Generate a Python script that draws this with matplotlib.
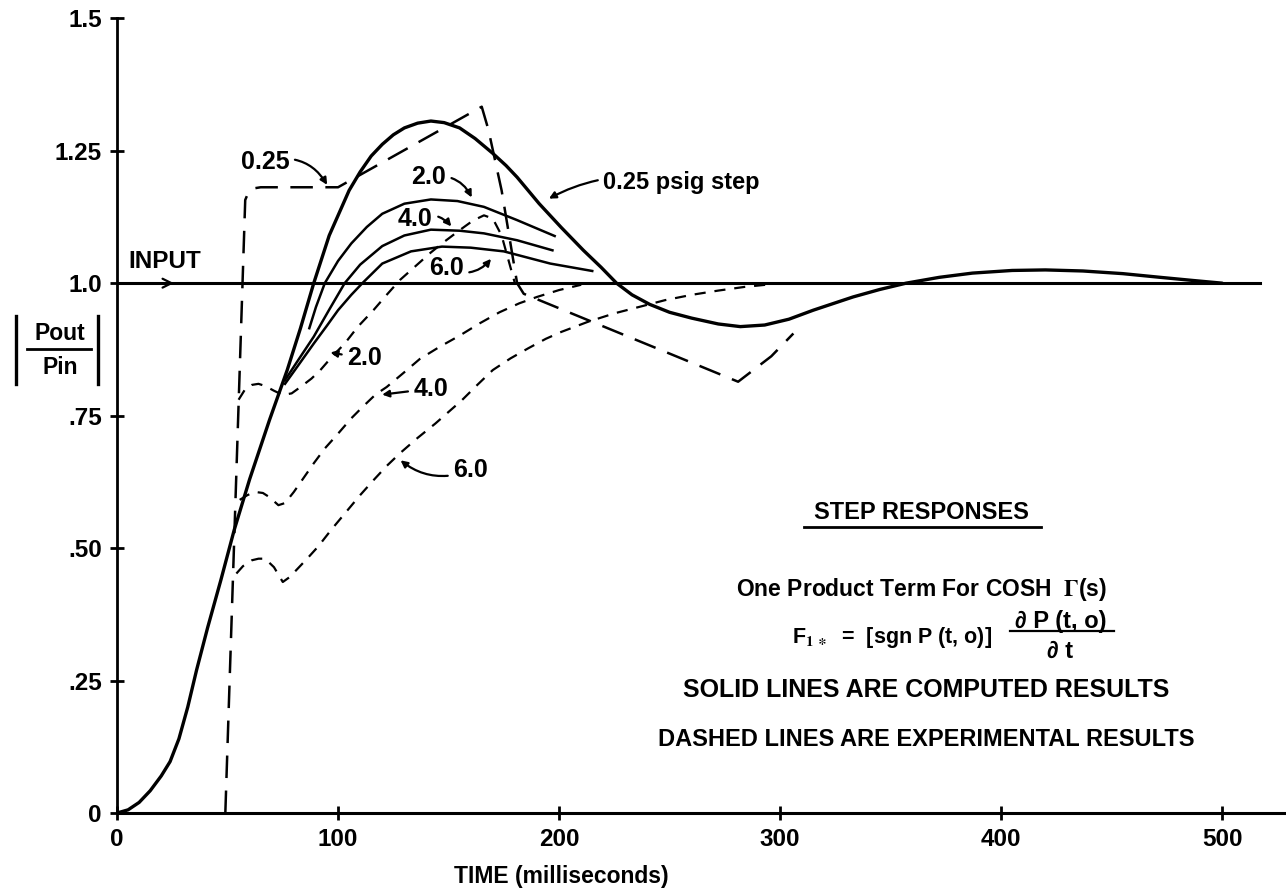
import matplotlib
matplotlib.use('Agg')
import matplotlib.pyplot as plt
from matplotlib.lines import Line2D
import numpy as np

# computed step response, 0.25 psig (heavy solid line)
solid_025_t = [0, 5, 10, 15, 20, 24, 28, 32, 36, 41, 47, 53, 60, 69, 77, 83, 89, 96, 105, 110,
               115, 120, 125, 130, 136, 142, 148, 155, 162, 170, 176, 181, 191, 201, 211, 219,
               226, 233, 241, 250, 260, 272, 282, 293, 304, 315, 333, 345, 357, 372, 387, 405,
               420, 437, 455, 472, 487, 500]
solid_025_v = [0, 0.006, 0.02, 0.042, 0.07, 0.097, 0.14, 0.20, 0.27, 0.35, 0.44, 0.534, 0.63,
               0.742, 0.836, 0.915, 1.0, 1.09, 1.175, 1.21, 1.24, 1.262, 1.28, 1.293, 1.302,
               1.306, 1.303, 1.293, 1.273, 1.245, 1.222, 1.20, 1.15, 1.105, 1.062, 1.03, 1.0,
               0.978, 0.96, 0.945, 0.934, 0.923, 0.918, 0.921, 0.932, 0.949, 0.974, 0.988, 1.0,
               1.011, 1.019, 1.024, 1.025, 1.023, 1.018, 1.011, 1.005, 1.0]

# computed, 2.0 / 4.0 / 6.0 psig
solid_20_t = [87, 90, 94, 100, 106, 113, 120, 130, 142, 154, 166, 181, 198]
solid_20_v = [0.915, 0.955, 1.0, 1.042, 1.075, 1.106, 1.131, 1.15, 1.158, 1.155, 1.144, 1.119, 1.089]
solid_40_t = [76, 82, 89, 96, 103, 110, 120, 130, 142, 155, 166, 181, 197]
solid_40_v = [0.817, 0.855, 0.899, 0.95, 1.0, 1.035, 1.07, 1.09, 1.101, 1.099, 1.094, 1.081, 1.062]
solid_60_t = [76, 82, 89, 95, 100, 106, 111, 120, 133, 147, 160, 175, 196, 215]
solid_60_v = [0.81, 0.845, 0.886, 0.92, 0.949, 0.978, 1.0, 1.037, 1.06, 1.069, 1.067, 1.06, 1.037, 1.023]

# experimental, 0.25 psig (long dashes)
dash_025_t = [49, 58, 59.5, 62, 65, 100, 165, 168, 174, 181, 184, 281, 296, 306]
dash_025_v = [0, 1.157, 1.172, 1.179, 1.181, 1.181, 1.333, 1.29, 1.175, 1.0, 0.98, 0.814, 0.862, 0.905]

# experimental, 2.0 / 4.0 / 6.0 psig
dash_20_t = [55, 58, 61, 64, 67, 71, 75, 79, 83, 88, 92, 97, 103, 109, 116, 122, 128, 135, 142,
             148, 155, 161, 166, 170, 174, 177, 180]
dash_20_v = [0.78, 0.80, 0.808, 0.81, 0.806, 0.797, 0.789, 0.792, 0.804, 0.82, 0.836, 0.86, 0.886,
             0.918, 0.949, 0.978, 1.006, 1.032, 1.058, 1.078, 1.10, 1.118, 1.128, 1.122, 1.09, 1.045, 1.0]
dash_40_t = [55.5, 59, 62.5, 66, 69, 73, 76, 80, 84, 89, 94, 100, 106, 111, 117, 122, 130, 137,
             146, 155, 164, 173, 182, 190, 200, 210]
dash_40_v = [0.591, 0.60, 0.606, 0.604, 0.596, 0.581, 0.585, 0.606, 0.63, 0.66, 0.688, 0.716,
             0.745, 0.766, 0.79, 0.804, 0.832, 0.857, 0.88, 0.901, 0.924, 0.945, 0.962, 0.974,
             0.987, 0.997]
dash_60_t = [54, 57, 61, 64, 67, 71, 75, 78, 81, 86, 91, 97, 103, 110, 116, 122, 128, 136, 144,
             150, 156, 163, 170, 178, 186, 194, 201, 213, 225, 237, 248, 260, 272, 284, 296]
dash_60_v = [0.452, 0.466, 0.477, 0.48, 0.48, 0.464, 0.436, 0.445, 0.458, 0.48, 0.503, 0.535,
             0.565, 0.60, 0.628, 0.655, 0.679, 0.708, 0.735, 0.757, 0.779, 0.808, 0.836, 0.858,
             0.877, 0.895, 0.908, 0.927, 0.943, 0.956, 0.968, 0.978, 0.986, 0.993, 0.998]

input_t = [0, 517]
input_v = [1.0, 1.0]

x_ticks = [0, 100, 200, 300, 400, 500]
y_ticks = [0, 0.25, 0.5, 0.75, 1.0, 1.25, 1.5]
y_tick_labels = ['0', '.25', '.50', '.75', '1.0', '1.25', '1.5']

plt.rcParams['font.family'] = ['Liberation Sans', 'DejaVu Sans']
plt.rcParams['font.weight'] = 'bold'
plt.rcParams['axes.labelweight'] = 'bold'

fig = plt.figure(figsize=(12.86, 8.90), dpi=100)
ax = fig.add_axes([0.091, 0.0865, 0.9075, 0.893])

ax.plot(input_t, input_v, color='k', lw=2.2)
ax.plot(solid_025_t, solid_025_v, color='k', lw=2.4, solid_capstyle='round')
ax.plot(solid_20_t, solid_20_v, color='k', lw=1.8)
ax.plot(solid_40_t, solid_40_v, color='k', lw=1.8)
ax.plot(solid_60_t, solid_60_v, color='k', lw=1.8)
ax.plot(dash_025_t, dash_025_v, color='k', lw=1.8, dashes=(9, 5))
ax.plot(dash_20_t, dash_20_v, color='k', lw=1.6, dashes=(5, 4))
ax.plot(dash_40_t, dash_40_v, color='k', lw=1.6, dashes=(5, 4))
ax.plot(dash_60_t, dash_60_v, color='k', lw=1.6, dashes=(5, 4))

ax.set_xlim(0, 528)
ax.set_ylim(0, 1.5)
ax.spines['top'].set_visible(False)
ax.spines['right'].set_visible(False)
ax.spines['left'].set_linewidth(2)
ax.spines['bottom'].set_linewidth(2.2)
ax.set_xticks(x_ticks)
ax.set_yticks(y_ticks)
ax.set_yticklabels(y_tick_labels)
ax.tick_params(direction='inout', length=10, width=2, labelsize=17.5, pad=6)

ax.set_xlabel('TIME (milliseconds)', fontsize=16.5)
ax.xaxis.set_label_coords(0.381, -0.065)

# input arrow
ax.annotate('', xy=(27, 1.0), xytext=(10, 1.0),
            arrowprops=dict(arrowstyle='->', lw=1.6, color='k', mutation_scale=16))
ax.text(5, 1.02, 'INPUT', fontsize=17.5, ha='left', va='bottom')

# curve labels
lab = dict(fontsize=18, ha='center', va='center')
arr = dict(arrowstyle='-|>', lw=1.6, color='k', mutation_scale=10)
ax.annotate('0.25', xy=(95.7, 1.181), xytext=(67, 1.229), **lab,
            arrowprops=dict(arr, connectionstyle='arc3,rad=-0.4'))
ax.annotate('2.0', xy=(161, 1.157), xytext=(141, 1.20), **lab,
            arrowprops=dict(arr, connectionstyle='arc3,rad=-0.4'))
ax.annotate('4.0', xy=(152, 1.103), xytext=(135, 1.122), **lab,
            arrowprops=dict(arr, connectionstyle='arc3,rad=-0.4'))
ax.annotate('6.0', xy=(170, 1.05), xytext=(149, 1.028), **lab,
            arrowprops=dict(arr, connectionstyle='arc3,rad=0.4'))
ax.annotate('0.25 psig step', xy=(194.3, 1.157), xytext=(220, 1.19), fontsize=17,
            ha='left', va='center', arrowprops=dict(arr, connectionstyle='arc3,rad=0.2'))
ax.annotate('2.0', xy=(95.3, 0.87), xytext=(112, 0.858), **lab, arrowprops=arr)
ax.annotate('4.0', xy=(118.7, 0.789), xytext=(142, 0.801), **lab, arrowprops=arr)
ax.annotate('6.0', xy=(127.3, 0.669), xytext=(160, 0.647), **lab,
            arrowprops=dict(arr, connectionstyle='arc3,rad=-0.3'))

# description block
cx = 366
ax.text(364, 0.568, 'STEP RESPONSES', fontsize=17, ha='center', va='center')
ax.plot([311, 418], [0.540, 0.540], color='k', lw=2)
ax.text(364, 0.421, r'One Product Term For COSH  $\Gamma$(s)', fontsize=16.5, ha='center',
        va='center', math_fontfamily='stix')
ax.text(305.4, 0.332, r'F$_{1\,\ast}$  =  [sgn P (t, o)]', fontsize=15.5, ha='left', va='center',
        math_fontfamily='stix')
ax.text(426.8, 0.362, '\u2202 P (t, o)', fontsize=17, ha='center', va='center')
ax.plot([404, 451], [0.343, 0.343], color='k', lw=1.6)
ax.text(426.8, 0.306, '\u2202 t', fontsize=17, ha='center', va='center')
ax.text(cx, 0.232, 'SOLID LINES ARE COMPUTED RESULTS', fontsize=18, ha='center', va='center')
ax.text(cx, 0.138, 'DASHED LINES ARE EXPERIMENTAL RESULTS', fontsize=17, ha='center', va='center')

# y label |Pout / Pin|
fig.text(60 / 1286, 1 - 333 / 890, 'Pout', fontsize=16.5, ha='center', va='center')
fig.text(60 / 1286, 1 - 368 / 890, 'Pin', fontsize=16.5, ha='center', va='center')
fig.add_artist(Line2D([27 / 1286, 91 / 1286], [1 - 349 / 890] * 2, color='k', lw=2))
fig.add_artist(Line2D([16 / 1286] * 2, [1 - 316 / 890, 1 - 384 / 890], color='k', lw=2.4))
fig.add_artist(Line2D([98 / 1286] * 2, [1 - 316 / 890, 1 - 384 / 890], color='k', lw=2.4))

fig.savefig('out.png', dpi=100)
